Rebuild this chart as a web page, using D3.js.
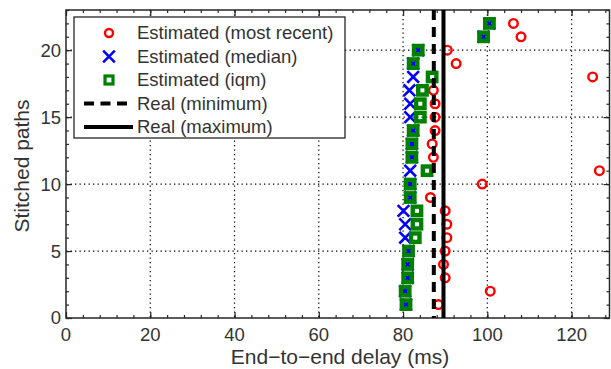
<!DOCTYPE html>
<html>
<head>
<meta charset="utf-8">
<script src="https://cdn.jsdelivr.net/npm/d3@7"></script>
<style>
  body { margin: 0; background: #fff; }
  svg { font-family: 'Liberation Sans', Arial, sans-serif; }
</style>
</head>
<body>
<svg id="chart" width="611" height="369"></svg>
<script>
// stitched path index (y) and the delay estimates (x, ms)
var paths = [1, 2, 3, 4, 5, 6, 7, 8, 9, 10, 11, 12, 13, 14, 15, 16, 17, 18, 19, 20, 21, 22];
var mostRecent = [88.4, 100.7, 90.0, 89.6, 90.0, 90.4, 90.4, 90.0, 86.5, 98.8, 126.6,
                  87.2, 86.9, 87.6, 87.6, 87.6, 87.2, 125.0, 92.6, 90.5, 108.0, 106.2];
var median = [80.7, 80.5, 81.1, 81.1, 81.3, 80.5, 80.5, 80.1, 81.7, 81.7, 81.7,
              82.1, 82.1, 82.4, 81.7, 81.7, 81.5, 82.4, 82.4, 83.6, 99.1, 100.5];
var iqm = [80.7, 80.5, 81.1, 81.1, 81.3, 82.9, 83.3, 83.3, 81.7, 81.7, 85.7,
           82.1, 82.1, 82.4, 84.1, 84.1, 84.6, 86.9, 82.4, 83.6, 99.1, 100.5];
var realMin = 87.3;
var realMax = 89.6;
var xTicks = [0, 20, 40, 60, 80, 100, 120];
var yTicks = [0, 5, 10, 15, 20];
var legendLabels = ["Estimated (most recent)", "Estimated (median)", "Estimated (iqm)",
                    "Real (minimum)", "Real (maximum)"];

var svg = d3.select("#chart");
var pLeft = 66, pRight = 609.5, pTop = 10, pBottom = 318;

var x = d3.scaleLinear().domain([0, 129]).range([pLeft, pRight]);
var y = d3.scaleLinear().domain([0, 23]).range([pBottom, pTop]);

var frameColor = "#262626";

// grid (dotted)
var grid = svg.append("g");
grid.selectAll(".gx").data(xTicks.filter(d => d > 0)).enter().append("line")
    .attr("x1", d => x(d)).attr("x2", d => x(d))
    .attr("y1", pTop).attr("y2", pBottom)
    .attr("stroke", "#000").attr("stroke-width", 1.2)
    .attr("stroke-dasharray", "1.3,3.2");
grid.selectAll(".gy").data(yTicks.filter(d => d > 0)).enter().append("line")
    .attr("y1", d => y(d)).attr("y2", d => y(d))
    .attr("x1", pLeft).attr("x2", pRight)
    .attr("stroke", "#000").attr("stroke-width", 1.2)
    .attr("stroke-dasharray", "1.3,3.2");

// axes with inward ticks on all four sides
var xMinor = d3.range(0, 129, 4);
var yMinor = d3.range(0, 24, 1);

function tickAxis(axis, vals, size) {
    return axis.tickValues(vals).tickSize(size).tickFormat("");
}

svg.append("g").attr("transform", `translate(0,${pBottom})`)
    .call(tickAxis(d3.axisTop(x), xMinor, 3));
svg.append("g").attr("transform", `translate(0,${pBottom})`)
    .call(tickAxis(d3.axisTop(x), xTicks, 6));
svg.append("g").attr("transform", `translate(0,${pTop})`)
    .call(tickAxis(d3.axisBottom(x), xMinor, 3));
svg.append("g").attr("transform", `translate(0,${pTop})`)
    .call(tickAxis(d3.axisBottom(x), xTicks, 6));
svg.append("g").attr("transform", `translate(${pLeft},0)`)
    .call(tickAxis(d3.axisRight(y), yMinor, 3));
svg.append("g").attr("transform", `translate(${pLeft},0)`)
    .call(tickAxis(d3.axisRight(y), yTicks, 6));
svg.append("g").attr("transform", `translate(${pRight},0)`)
    .call(tickAxis(d3.axisLeft(y), yMinor, 3));
svg.append("g").attr("transform", `translate(${pRight},0)`)
    .call(tickAxis(d3.axisLeft(y), yTicks, 6));

svg.selectAll(".domain").remove();
svg.selectAll(".tick line").attr("stroke", frameColor).attr("stroke-width", 1.2);

svg.append("rect")
    .attr("x", pLeft).attr("y", pTop)
    .attr("width", pRight - pLeft).attr("height", pBottom - pTop)
    .attr("fill", "none").attr("stroke", frameColor).attr("stroke-width", 1.5);

// tick labels
svg.selectAll(".xl").data(xTicks).enter().append("text")
    .attr("x", d => x(d)).attr("y", 341)
    .attr("text-anchor", "middle")
    .style("font-size", "18.5px").attr("fill", "#333")
    .text(d => d);
svg.selectAll(".yl").data(yTicks).enter().append("text")
    .attr("x", 61).attr("y", d => y(d)).attr("dy", "0.35em")
    .attr("text-anchor", "end")
    .style("font-size", "18.5px").attr("fill", "#333")
    .text(d => d);

// axis titles
svg.append("text")
    .attr("x", 340).attr("y", 364)
    .attr("text-anchor", "middle")
    .style("font-size", "21px").attr("fill", "#333")
    .text("End\u2212to\u2212end delay (ms)");
svg.append("text")
    .attr("transform", `translate(29,${(97 + 235) / 2}) rotate(-90)`)
    .attr("text-anchor", "middle")
    .style("font-size", "21px").attr("fill", "#333")
    .text("Stitched paths");

// markers
var red = "#ff0000", blue = "#0000ff", green = "#008000";
var xPath = d3.symbol().type(d3.symbolX).size(90);

var plot = svg.append("g");

plot.selectAll(".recent").data(paths).enter().append("circle")
    .attr("cx", (d, i) => x(mostRecent[i])).attr("cy", d => y(d))
    .attr("r", 4.3)
    .attr("fill", "none").attr("stroke", red).attr("stroke-width", 2.4);

plot.selectAll(".median").data(paths).enter().append("path")
    .attr("transform", (d, i) => `translate(${x(median[i])},${y(d)})`)
    .attr("d", xPath)
    .attr("fill", "none").attr("stroke", blue).attr("stroke-width", 2.6);

plot.selectAll(".iqm").data(paths).enter().append("rect")
    .attr("x", (d, i) => x(iqm[i]) - 4.2).attr("y", d => y(d) - 4.2)
    .attr("width", 8.4).attr("height", 8.4)
    .attr("fill", "none").attr("stroke", green).attr("stroke-width", 4.4);

// real delay bounds
plot.append("line")
    .attr("x1", x(realMin)).attr("x2", x(realMin))
    .attr("y1", pTop).attr("y2", pBottom)
    .attr("stroke", "#000").attr("stroke-width", 4)
    .attr("stroke-dasharray", "10,7");
plot.append("line")
    .attr("x1", x(realMax)).attr("x2", x(realMax))
    .attr("y1", pTop).attr("y2", pBottom)
    .attr("stroke", "#000").attr("stroke-width", 4);

// legend
var lg = svg.append("g");
lg.append("rect")
    .attr("x", 74).attr("y", 17).attr("width", 271).attr("height", 121)
    .attr("fill", "#fff").attr("stroke", frameColor).attr("stroke-width", 1.3);

var rowY = d3.scalePoint().domain(legendLabels).range([33, 127]);

lg.selectAll(".lt").data(legendLabels).enter().append("text")
    .attr("x", 137).attr("y", d => rowY(d)).attr("dy", "0.35em")
    .style("font-size", "18.5px").attr("fill", "#333")
    .text(d => d);

lg.append("circle")
    .attr("cx", 109).attr("cy", rowY(legendLabels[0]))
    .attr("r", 4).attr("fill", "none").attr("stroke", red).attr("stroke-width", 2.4);
lg.append("path")
    .attr("transform", `translate(109,${rowY(legendLabels[1])})`)
    .attr("d", xPath).attr("fill", "none").attr("stroke", blue).attr("stroke-width", 2.6);
lg.append("rect")
    .attr("x", 109 - 4).attr("y", rowY(legendLabels[2]) - 4)
    .attr("width", 8).attr("height", 8)
    .attr("fill", "none").attr("stroke", green).attr("stroke-width", 3.2);
lg.append("line")
    .attr("x1", 84).attr("x2", 133)
    .attr("y1", rowY(legendLabels[3])).attr("y2", rowY(legendLabels[3]))
    .attr("stroke", "#000").attr("stroke-width", 4).attr("stroke-dasharray", "10,6.5");
lg.append("line")
    .attr("x1", 84).attr("x2", 133)
    .attr("y1", rowY(legendLabels[4])).attr("y2", rowY(legendLabels[4]))
    .attr("stroke", "#000").attr("stroke-width", 4);
</script>
</body>
</html>
